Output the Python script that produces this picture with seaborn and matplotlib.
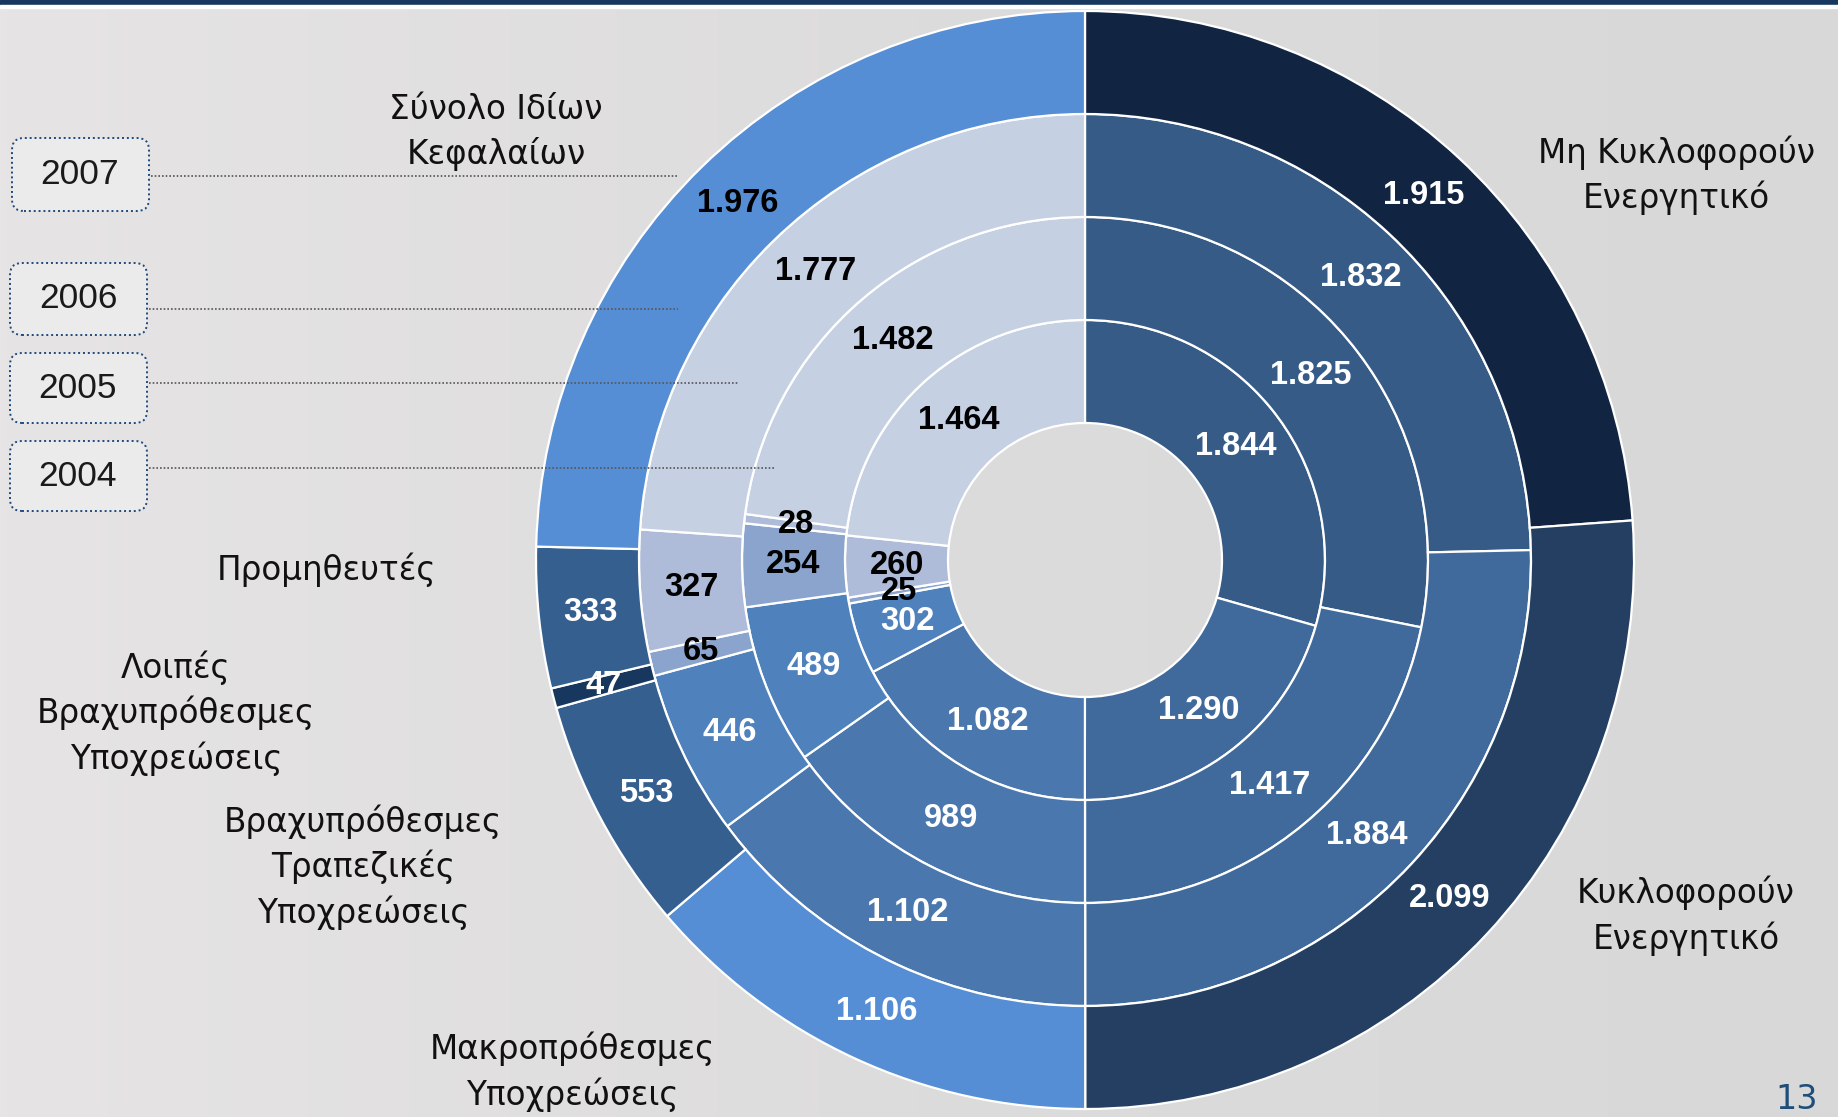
import matplotlib.pyplot as plt
import numpy as np
import seaborn as sns
from matplotlib.colors import LinearSegmentedColormap
from matplotlib.patches import FancyBboxPatch

# ── Data (values in € thousands, clockwise from 12 o'clock) ─────────────────
categories = [
    "Μη Κυκλοφορούν Ενεργητικό",
    "Κυκλοφορούν Ενεργητικό",
    "Μακροπρόθεσμες Υποχρεώσεις",
    "Βραχυπρόθεσμες Τραπεζικές Υποχρεώσεις",
    "Λοιπές Βραχυπρόθεσμες Υποχρεώσεις",
    "Προμηθευτές",
    "Σύνολο Ιδίων Κεφαλαίων",
]
years = ["2004", "2005", "2006", "2007"]
values_2004 = [1844, 1290, 1082, 302, 25, 260, 1464]
values_2005 = [1825, 1417, 989, 489, 254, 28, 1482]
values_2006 = [1832, 1884, 1102, 446, 65, 327, 1777]
values_2007 = [1915, 2099, 1106, 553, 47, 333, 1976]
ring_values = [values_2004, values_2005, values_2006, values_2007]

# ── Palette & style ───────────────────────────────────────────────────────────
INNER_COLORS = ["#365b87", "#416a9c", "#4a77ae", "#4f81bd", "#8aa4cd", "#aebcda", "#c6d0e3"]
OUTER_COLORS = ["#112442", "#243f62", "#558ed5", "#355f8f", "#17375e", "#355f8f", "#558ed5"]
INNER_TEXT = ["white"] * 4 + ["black"] * 3
OUTER_TEXT = ["white"] * 6 + ["black"]
BG = "#dfdedf"

W, H = 1838, 1117
CX, CY = 1085, H - 560     # pie centre (pixel units, y up)
R_OUT = 549
RING_W = 103

sns.set_style("white")
plt.rcParams["font.family"] = ["DejaVu Sans"]

fig = plt.figure(figsize=(W / 100, H / 100), dpi=100, facecolor=BG)
ax = fig.add_axes([0, 0, 1, 1])
ax.set_facecolor(BG)


def py(y):
    # convert a top-down pixel row into the y-up data coordinate
    return H - y


# soft left-to-right backdrop like the slide texture
bg_cmap = LinearSegmentedColormap.from_list("bg", ["#e6e4e5", "#dddcdd", "#d8d8d8"])
ax.imshow(np.linspace(0, 1, 256)[None, :], cmap=bg_cmap, aspect="auto",
          extent=(0, W, 0, H), zorder=0)

# ── Rings ─────────────────────────────────────────────────────────────────────
for i, vals in enumerate(ring_values):
    outer = i == len(ring_values) - 1
    radius = R_OUT - (len(ring_values) - 1 - i) * RING_W
    wedges, _ = ax.pie(
        vals,
        radius=radius,
        center=(CX, CY),
        startangle=90,
        counterclock=False,
        colors=OUTER_COLORS if outer else INNER_COLORS,
        wedgeprops=dict(width=RING_W, edgecolor="white", linewidth=1.6),
    )
    txt_cols = OUTER_TEXT if outer else INNER_TEXT
    r_mid = radius - RING_W / 2
    for w, v, c in zip(wedges, vals, txt_cols):
        ang = np.deg2rad((w.theta1 + w.theta2) / 2)
        ax.text(
            CX + r_mid * np.cos(ang), CY + r_mid * np.sin(ang),
            f"{v:,}".replace(",", "."),
            ha="center", va="center", color=c,
            fontsize=23.5, fontweight="bold", family="Liberation Sans",
        )

ax.set_xlim(0, W)
ax.set_ylim(0, H)
ax.set_aspect("equal")
ax.axis("off")

# ── Year boxes with dotted leader lines ───────────────────────────────────────
year_boxes = {"2007": (138, 211), "2006": (263, 335), "2005": (353, 423), "2004": (441, 511)}
leader = {"2007": (176, 678), "2006": (309, 678), "2005": (383, 738), "2004": (468, 775)}
for yr in years:
    top, bot = year_boxes[yr]
    x0 = 12 if yr == "2007" else 10
    box = FancyBboxPatch(
        (x0, py(bot)), 137, bot - top,
        boxstyle="round,pad=0,rounding_size=12",
        facecolor="#ebebeb", edgecolor="#1f497d", linestyle=(0, (1, 1.5)), linewidth=1.4,
    )
    ax.add_patch(box)
    ax.text(x0 + 68, py((top + bot) / 2), yr, ha="center", va="center",
            fontsize=25.5, family="Liberation Sans", color="#1a1a1a")
    ly, lx = leader[yr]
    ax.plot([x0 + 139, lx], [py(ly), py(ly)], color="#555555", linestyle=(0, (1, 1.2)), linewidth=1.2)

# ── Category labels ──────────────────────────────────────────────────────────
cat_labels = [
    ("Σύνολο Ιδίων\nΚεφαλαίων", 496, 132),
    ("Μη Κυκλοφορούν\nΕνεργητικό", 1676, 175),
    ("Προμηθευτές", 326, 570),
    ("Λοιπές\nΒραχυπρόθεσμες\nΥποχρεώσεις", 176, 713),
    ("Βραχυπρόθεσμες\nΤραπεζικές\nΥποχρεώσεις", 363, 867),
    ("Κυκλοφορούν\nΕνεργητικό", 1686, 916),
    ("Μακροπρόθεσμες\nΥποχρεώσεις", 572, 1072),
]
for text, x, y in cat_labels:
    ax.text(x, py(y), text, ha="center", va="center", fontsize=23.5,
            linespacing=1.4, color="#111111")

# ── Slide decoration ─────────────────────────────────────────────────────────
ax.axhspan(py(5), H, color="#17375e")
ax.axhspan(py(8), py(5), color="white")
ax.text(1797, 1, "13", ha="center", va="bottom", fontsize=24, color="#1f4e79")

fig.savefig("out.png", dpi=100, facecolor=BG)
